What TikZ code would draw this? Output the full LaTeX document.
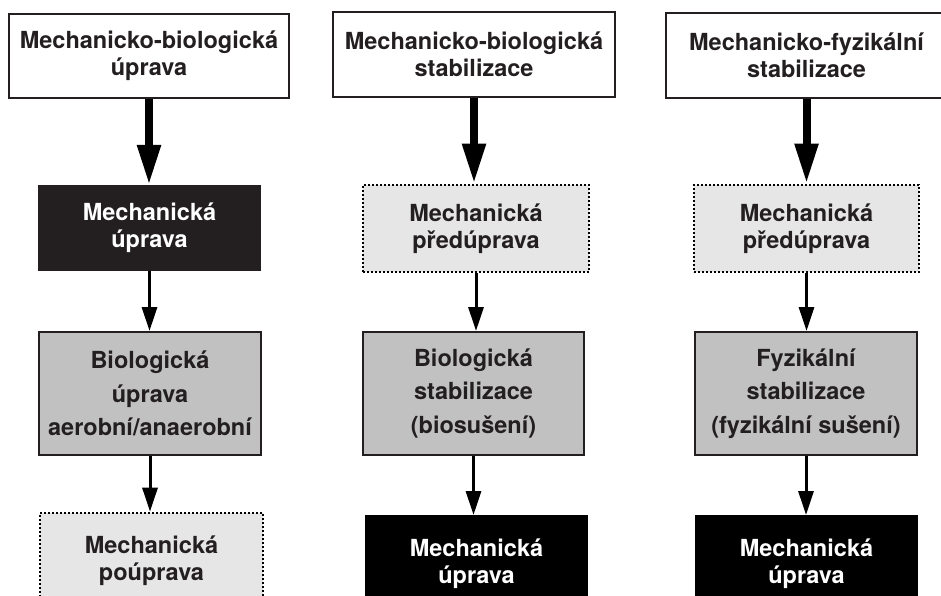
\documentclass[tikz,border=0pt]{standalone}
\usepackage{fontspec}
\setmainfont{TeX Gyre Heros}
\usetikzlibrary{arrows.meta}
\definecolor{ink}{HTML}{231F20}
\definecolor{midgray}{HTML}{C1C1C1}
\definecolor{lightgray}{HTML}{E6E6E6}
\tikzset{
  box/.style={draw=ink, line width=2pt, rectangle, inner sep=0pt, align=center,
    font=\fontsize{23.5}{27}\selectfont\bfseries, text=ink},
  whitebox/.style={box, fill=white},
  darkbox/.style={box, fill=ink, text=white},
  blackbox/.style={box, draw=black, fill=black, text=white},
  graybox/.style={box, fill=midgray, font=\fontsize{23.5}{33.5}\selectfont\bfseries},
  dotbox/.style={box, draw=black, line width=2.6pt, fill=lightgray, dash pattern=on 1.6pt off 2.4pt},
  bigarrow/.style={draw=black, line width=8pt, -{Triangle[width=22pt,length=40pt]}},
  smallarrow/.style={draw=black, line width=3pt, -{Triangle[width=15pt,length=24pt]}}
}
\begin{document}
\begin{tikzpicture}[x=1pt,y=-1pt]
\useasboundingbox (0,0) rectangle (941,596);
\clip (0,0) rectangle (941,596);
% column 1
\node[whitebox, minimum width=280pt, minimum height=84pt] (a1) at (149,56) {Mechanicko-biologická\\úprava};
\node[darkbox, minimum width=221pt, minimum height=84pt] (a2) at (149.5,228) {Mechanická\\úprava};
\node[graybox, minimum width=222pt, minimum height=123pt] (a3) at (150,393.5) {Biologická\\úprava\\aerobní/anaerobní};
\node[dotbox, minimum width=223pt, minimum height=96pt] (a4) at (151.5,561) {Mechanická\\poúprava};
% column 2
\node[whitebox, minimum width=282pt, minimum height=85pt] (b1) at (474,54.5) {Mechanicko-biologická\\stabilizace};
\node[dotbox, minimum width=226pt, minimum height=87pt] (b2) at (476,228.5) {Mechanická\\předúprava};
\node[graybox, minimum width=221pt, minimum height=123pt] (b3) at (473.5,393.5) {Biologická\\stabilizace\\(biosušení)};
\node[blackbox, minimum width=221pt, minimum height=96pt] (b4) at (476.5,564) {Mechanická\\úprava};
% column 3
\node[whitebox, minimum width=281pt, minimum height=85pt] (c1) at (806.5,55.5) {Mechanicko-fyzikální\\stabilizace};
\node[dotbox, minimum width=225pt, minimum height=87pt] (c2) at (806.5,228.5) {Mechanická\\předúprava};
\node[graybox, minimum width=222pt, minimum height=123pt] (c3) at (806,393.5) {Fyzikální\\stabilizace\\(fyzikální sušení)};
\node[blackbox, minimum width=221pt, minimum height=96pt] (c4) at (806.5,564) {Mechanická\\úprava};
% arrows
\draw[bigarrow] (a1.south) -- (a1.south |- a2.north);
\draw[smallarrow] (a2.south) -- (a2.south |- a3.north);
\draw[smallarrow] (a3.south) -- (a3.south |- a4.north);
\draw[bigarrow] (b1.south) -- (b1.south |- b2.north);
\draw[smallarrow] (b2.south) -- (b2.south |- b3.north);
\draw[smallarrow] (b3.south) -- (b3.south |- b4.north);
\draw[bigarrow] (c1.south) -- (c1.south |- c2.north);
\draw[smallarrow] (c2.south) -- (c2.south |- c3.north);
\draw[smallarrow] (c3.south) -- (c3.south |- c4.north);
\end{tikzpicture}
\end{document}
